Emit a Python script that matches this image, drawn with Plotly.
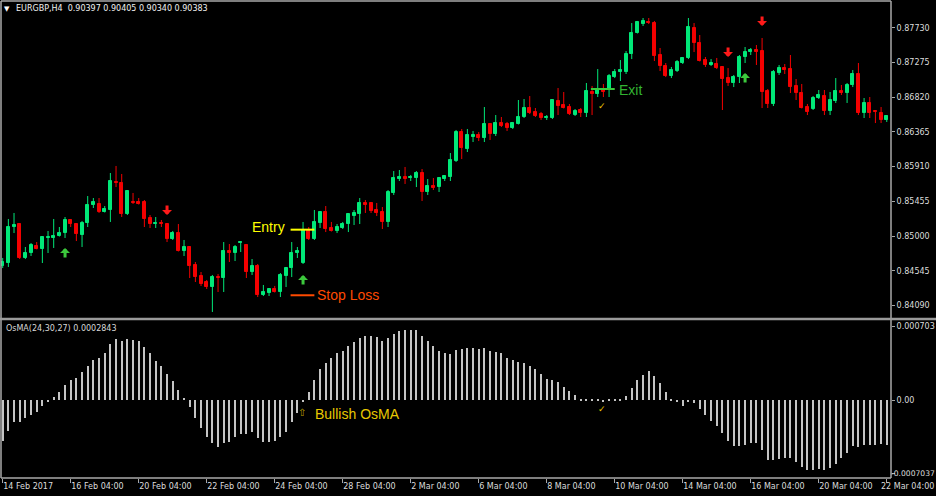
import plotly.graph_objects as go

# ---------------- data ----------------
date_labels = ["14 Feb 2017", "16 Feb 04:00", "20 Feb 04:00", "22 Feb 04:00", "24 Feb 04:00",
               "28 Feb 04:00", "2 Mar 04:00", "6 Mar 04:00", "8 Mar 04:00", "10 Mar 04:00",
               "14 Mar 04:00", "16 Mar 04:00", "20 Mar 04:00", "22 Mar 04:00"]
date_label_bars = [0, 12, 24, 36, 48, 60, 72, 84, 96, 108, 120, 132, 144, 156]

open_ = [0.84607, 0.84646, 0.85118, 0.85157, 0.84712, 0.84777, 0.84869, 0.84830, 0.84980, 0.84974,
         0.85000, 0.85039, 0.85210, 0.85157, 0.85013, 0.85170, 0.85406, 0.85420, 0.85315, 0.85341,
         0.85708, 0.85695, 0.85288, 0.85446, 0.85446, 0.85446, 0.85236, 0.85157, 0.85170, 0.85157,
         0.84961, 0.85039, 0.84803, 0.84856, 0.84620, 0.84476, 0.84397, 0.84331, 0.84462, 0.84449,
         0.84803, 0.84777, 0.84908, 0.84882, 0.84528, 0.84607, 0.84227, 0.84253, 0.84305, 0.84266,
         0.84476, 0.84580, 0.84777, 0.84646, 0.85079, 0.84961, 0.85170, 0.85315, 0.85105, 0.85066,
         0.85105, 0.85157, 0.85262, 0.85288, 0.85433, 0.85433, 0.85341, 0.85315, 0.85184, 0.85564,
         0.85747, 0.85773, 0.85760, 0.85760, 0.85826, 0.85577, 0.85656, 0.85642, 0.85747, 0.85773,
         0.85983, 0.86363, 0.86141, 0.86298, 0.86324, 0.86285, 0.86468, 0.86337, 0.86481, 0.86468,
         0.86416, 0.86468, 0.86560, 0.86678, 0.86626, 0.86599, 0.86547, 0.86547, 0.86770, 0.86717,
         0.86691, 0.86586, 0.86652, 0.86613, 0.86888, 0.86862, 0.86927, 0.86927, 0.87084, 0.87150,
         0.87150, 0.87386, 0.87661, 0.87779, 0.87806, 0.87792, 0.87373, 0.87229, 0.87098, 0.87163,
         0.87268, 0.87334, 0.87727, 0.87530, 0.87307, 0.87242, 0.87255, 0.87216, 0.87071, 0.87006,
         0.87084, 0.87347, 0.87412, 0.87438, 0.87425, 0.86901, 0.86731, 0.87137, 0.87202, 0.87189,
         0.86967, 0.86875, 0.86691, 0.86665, 0.86809, 0.86835, 0.86639, 0.86770, 0.86901, 0.86875,
         0.86980, 0.87124, 0.86613, 0.86744, 0.86639, 0.86613, 0.86521]
high = [0.84712, 0.85223, 0.85302, 0.85170, 0.84856, 0.84908, 0.84921, 0.84993, 0.85066, 0.85223,
        0.85118, 0.85249, 0.85223, 0.85170, 0.85197, 0.85524, 0.85498, 0.85498, 0.85393, 0.85826,
        0.85918, 0.85813, 0.85597, 0.85564, 0.85498, 0.85472, 0.85275, 0.85249, 0.85210, 0.85164,
        0.85066, 0.85157, 0.84948, 0.84869, 0.84659, 0.84528, 0.84423, 0.84489, 0.84502, 0.84921,
        0.84895, 0.84882, 0.84934, 0.84889, 0.84698, 0.84633, 0.84358, 0.84318, 0.84345, 0.84515,
        0.84594, 0.84921, 0.84856, 0.85184, 0.85118, 0.85341, 0.85328, 0.85393, 0.85184, 0.85157,
        0.85184, 0.85295, 0.85341, 0.85498, 0.85472, 0.85446, 0.85433, 0.85380, 0.85603, 0.85852,
        0.85865, 0.85905, 0.85800, 0.85852, 0.85878, 0.85747, 0.85760, 0.85773, 0.85793, 0.86088,
        0.86390, 0.86403, 0.86403, 0.86377, 0.86363, 0.86691, 0.86481, 0.86586, 0.86560, 0.86495,
        0.86495, 0.86783, 0.86796, 0.86835, 0.86678, 0.86626, 0.86586, 0.86796, 0.86940, 0.86888,
        0.86731, 0.86665, 0.86678, 0.87006, 0.86967, 0.87189, 0.86993, 0.87124, 0.87189, 0.87307,
        0.87425, 0.87792, 0.87819, 0.87858, 0.87858, 0.87819, 0.87465, 0.87268, 0.87216, 0.87307,
        0.87347, 0.87858, 0.87792, 0.87635, 0.87347, 0.87320, 0.87334, 0.87222, 0.87202, 0.87111,
        0.87373, 0.87478, 0.87465, 0.87504, 0.87596, 0.86927, 0.87176, 0.87242, 0.87255, 0.87373,
        0.87058, 0.86993, 0.86731, 0.86835, 0.86914, 0.86914, 0.86888, 0.87071, 0.86980, 0.87006,
        0.87176, 0.87268, 0.86809, 0.86822, 0.86652, 0.86691, 0.86586]
low = [0.84580, 0.84594, 0.85039, 0.84698, 0.84698, 0.84738, 0.84825, 0.84646, 0.84777, 0.84843,
       0.84993, 0.84974, 0.85118, 0.84934, 0.84856, 0.85118, 0.85367, 0.85302, 0.85308, 0.85184,
       0.85642, 0.85249, 0.85275, 0.85420, 0.85413, 0.85118, 0.85105, 0.85105, 0.85118, 0.84921,
       0.84948, 0.84797, 0.84738, 0.84449, 0.84397, 0.84345, 0.84305, 0.84004, 0.84266, 0.84266,
       0.84659, 0.84672, 0.84790, 0.84449, 0.84489, 0.84200, 0.84213, 0.84213, 0.84259, 0.84200,
       0.84331, 0.84462, 0.84712, 0.84633, 0.84948, 0.84948, 0.85105, 0.85052, 0.85059, 0.85039,
       0.85092, 0.85052, 0.85144, 0.85157, 0.85302, 0.85302, 0.85262, 0.85092, 0.85118, 0.85538,
       0.85721, 0.85682, 0.85721, 0.85642, 0.85459, 0.85538, 0.85603, 0.85577, 0.85721, 0.85721,
       0.85970, 0.86009, 0.86101, 0.86232, 0.86245, 0.86232, 0.86259, 0.86311, 0.86429, 0.86377,
       0.86403, 0.86462, 0.86547, 0.86599, 0.86560, 0.86521, 0.86521, 0.86534, 0.86586, 0.86672,
       0.86586, 0.86573, 0.86560, 0.86560, 0.86586, 0.86822, 0.86822, 0.86822, 0.87071, 0.87032,
       0.87124, 0.87320, 0.87655, 0.87753, 0.87779, 0.87294, 0.87163, 0.87084, 0.87071, 0.87150,
       0.87255, 0.87320, 0.87412, 0.87288, 0.87216, 0.87229, 0.87189, 0.86652, 0.86967, 0.86953,
       0.87006, 0.87268, 0.87373, 0.87242, 0.86678, 0.86678, 0.86704, 0.87111, 0.87124, 0.86875,
       0.86783, 0.86672, 0.86586, 0.86652, 0.86796, 0.86586, 0.86586, 0.86744, 0.86849, 0.86744,
       0.86953, 0.86586, 0.86547, 0.86547, 0.86481, 0.86481, 0.86495]
close = [0.84659, 0.85118, 0.85144, 0.84712, 0.84777, 0.84882, 0.84830, 0.84987, 0.84987, 0.85000,
         0.85039, 0.85210, 0.85157, 0.85026, 0.85170, 0.85406, 0.85446, 0.85315, 0.85354, 0.85721,
         0.85695, 0.85288, 0.85590, 0.85433, 0.85426, 0.85223, 0.85157, 0.85170, 0.85157, 0.84961,
         0.85039, 0.84803, 0.84856, 0.84607, 0.84462, 0.84371, 0.84331, 0.84462, 0.84449, 0.84803,
         0.84777, 0.84856, 0.84921, 0.84528, 0.84607, 0.84227, 0.84266, 0.84305, 0.84266, 0.84489,
         0.84580, 0.84777, 0.84803, 0.85079, 0.84961, 0.85184, 0.85315, 0.85092, 0.85066, 0.85118,
         0.85157, 0.85288, 0.85302, 0.85433, 0.85406, 0.85328, 0.85302, 0.85184, 0.85577, 0.85760,
         0.85773, 0.85747, 0.85773, 0.85826, 0.85577, 0.85656, 0.85629, 0.85760, 0.85787, 0.85996,
         0.86363, 0.86154, 0.86324, 0.86324, 0.86285, 0.86468, 0.86337, 0.86481, 0.86442, 0.86416,
         0.86481, 0.86560, 0.86678, 0.86613, 0.86573, 0.86547, 0.86560, 0.86783, 0.86704, 0.86678,
         0.86599, 0.86639, 0.86613, 0.86901, 0.86862, 0.86914, 0.86888, 0.87098, 0.87150, 0.87176,
         0.87386, 0.87661, 0.87806, 0.87819, 0.87792, 0.87360, 0.87229, 0.87098, 0.87176, 0.87281,
         0.87334, 0.87740, 0.87530, 0.87294, 0.87242, 0.87268, 0.87202, 0.87058, 0.87006, 0.87084,
         0.87347, 0.87412, 0.87438, 0.87412, 0.86888, 0.86731, 0.87150, 0.87202, 0.87176, 0.86953,
         0.86875, 0.86678, 0.86626, 0.86809, 0.86849, 0.86639, 0.86783, 0.86901, 0.86875, 0.86980,
         0.87124, 0.86613, 0.86744, 0.86613, 0.86626, 0.86521, 0.86573]

osma = [-0.000392, -0.000297, -0.000214, -0.000207, -0.000175, -0.000144, -0.000112, -0.000054, -0.000016, 0.000029,
        0.000073, 0.000144, 0.000191, 0.000214, 0.000265, 0.000329, 0.000386, 0.000405, 0.000450, 0.000539,
        0.000584, 0.000565, 0.000584, 0.000574, 0.000565, 0.000510, 0.000447, 0.000376, 0.000329, 0.000246,
        0.000185, 0.000093, 0.000022, -0.000064, -0.000175, -0.000271, -0.000351, -0.000415, -0.000447, -0.000415,
        -0.000399, -0.000351, -0.000329, -0.000329, -0.000303, -0.000367, -0.000399, -0.000405, -0.000392, -0.000351,
        -0.000303, -0.000207, -0.000128, -0.000016, 0.000073, 0.000191, 0.000297, 0.000351, 0.000399, 0.000447,
        0.000469, 0.000520, 0.000552, 0.000590, 0.000616, 0.000616, 0.000606, 0.000565, 0.000590, 0.000628,
        0.000660, 0.000670, 0.000670, 0.000670, 0.000616, 0.000565, 0.000520, 0.000469, 0.000447, 0.000437,
        0.000479, 0.000488, 0.000494, 0.000494, 0.000485, 0.000494, 0.000472, 0.000463, 0.000447, 0.000405,
        0.000383, 0.000360, 0.000351, 0.000329, 0.000293, 0.000249, 0.000198, 0.000191, 0.000169, 0.000128,
        0.000086, 0.000048, 0.000010, 0.000006, 0.000006, 0.000006, -0.000022, 0.000010, 0.000002, 0.000003,
        0.000041, 0.000112, 0.000191, 0.000239, 0.000281, 0.000233, 0.000160, 0.000080, 0.000010, -0.000016,
        -0.000054, -0.000022, -0.000032, -0.000086, -0.000144, -0.000201, -0.000246, -0.000319, -0.000392, -0.000440,
        -0.000437, -0.000431, -0.000415, -0.000415, -0.000479, -0.000574, -0.000574, -0.000565, -0.000552, -0.000558,
        -0.000597, -0.000638, -0.000670, -0.000670, -0.000660, -0.000670, -0.000648, -0.000616, -0.000558, -0.000510,
        -0.000437, -0.000447, -0.000431, -0.000431, -0.000431, -0.000424, -0.000431]

price_ticks = [0.84090, 0.84545, 0.85000, 0.85455, 0.85910, 0.86365, 0.86820, 0.87275, 0.87730]
osma_ticks = [0.000703, 0.0, -0.0007037]
osma_tick_text = ["0.000703", "0.00", "-0.0007037"]

buy_bars = [11, 53, 131]
buy_prices = [0.84843, 0.84489, 0.87137]
sell_bars = [29, 128, 134]
sell_prices = [0.85275, 0.87347, 0.87753]

entry_price = 0.85083
stop_price = 0.84223
exit_price = 0.86927
entry_span = [50.8, 55.0]
exit_span = [103.8, 108.0]
check_bar = 105.8
check_price = 0.86704
check_osma = -0.000086

title_text = "EURGBP,H4\u00a0\u00a00.90397 0.90405 0.90340 0.90383"
osma_label = "OsMA(24,30,27) 0.0002843"

# ---------------- styles ----------------
UP = "#00E878"
DN = "#F40000"
AXIS_FONT = dict(family="DejaVu Sans", size=8, color="#dcdcdc")
FRAME = "#a8a8a8"

fig = go.Figure()
idx = list(range(len(open_)))
up = [i for i in idx if close[i] >= open_[i]]
dn = [i for i in idx if close[i] < open_[i]]

for ids, col in ((up, UP), (dn, DN)):
    xs, ys = [], []
    for i in ids:
        xs += [i, i, None]
        ys += [low[i], high[i], None]
    fig.add_trace(go.Scatter(x=xs, y=ys, mode="lines", line=dict(color=col, width=1),
                             hoverinfo="skip", xaxis="x", yaxis="y"))
    fig.add_trace(go.Bar(x=ids, y=[abs(close[i] - open_[i]) for i in ids],
                         base=[min(open_[i], close[i]) for i in ids], width=0.53,
                         marker=dict(color=col, line=dict(color=col, width=1)),
                         hoverinfo="skip", xaxis="x", yaxis="y"))

fig.add_trace(go.Bar(x=idx, y=osma, width=0.17, marker=dict(color="#c4c4c4", line=dict(width=0)),
                     hoverinfo="skip", xaxis="x2", yaxis="y2"))

# trade level lines
for span, price, col in ((entry_span, entry_price, "#FFFF00"), (entry_span, stop_price, "#FF4A00"),
                         (exit_span, exit_price, "#3CC83C")):
    fig.add_trace(go.Scatter(x=span, y=[price, price], mode="lines", line=dict(color=col, width=2),
                             hoverinfo="skip", xaxis="x", yaxis="y"))

# the last date label and the lowest OsMA label are drawn as annotations so they stay inside the page
axis_ticktext = date_labels[:-1] + [""]
osma_axis_text = osma_tick_text[:-1] + [""]

xr = [-0.3, 156.75]
fig.update_layout(
    template="none", width=936, height=496,
    margin=dict(l=1, r=45, t=1, b=18),
    paper_bgcolor="black", plot_bgcolor="black",
    showlegend=False, barmode="overlay", bargap=0,
    xaxis=dict(domain=[0, 1], range=xr, anchor="y", showticklabels=False, showgrid=False,
               zeroline=False, ticks="", showline=False, automargin=False),
    xaxis2=dict(domain=[0, 1], range=xr, anchor="y2", showgrid=False, zeroline=False,
                tickmode="array", tickvals=date_label_bars, ticktext=axis_ticktext,
                ticks="outside", ticklen=4, tickcolor=FRAME, tickwidth=1,
                ticklabelposition="outside right", ticklabeloverflow="allow",
                tickfont=AXIS_FONT, showline=False, automargin=False),
    yaxis=dict(domain=[0.33543, 1], range=[0.83925, 0.88081], side="right", anchor="x",
               tickmode="array", tickvals=price_ticks, ticktext=["%.5f" % v for v in price_ticks],
               ticks="outside", ticklen=3, tickcolor=FRAME, tickfont=AXIS_FONT,
               showgrid=False, zeroline=False, showline=False, automargin=False),
    yaxis2=dict(domain=[0, 0.32914], range=[-0.000746, 0.000756], side="right", anchor="x2",
                tickmode="array", tickvals=osma_ticks, ticktext=osma_axis_text,
                ticks="outside", ticklen=3, tickcolor=FRAME, tickfont=AXIS_FONT,
                ticklabeloverflow="allow",
                showgrid=False, zeroline=False, showline=False, automargin=False),
)

# frame lines
sep_y = (478 - 319) / 477
shapes = [
    dict(type="line", xref="paper", yref="paper", x0=0, x1=0, y0=0, y1=1, line=dict(color=FRAME, width=1.5)),
    dict(type="line", xref="paper", yref="paper", x0=1, x1=1, y0=0, y1=1, line=dict(color=FRAME, width=1.5)),
    dict(type="line", xref="paper", yref="paper", x0=0, x1=1, y0=1, y1=1, line=dict(color=FRAME, width=1.5)),
    dict(type="line", xref="paper", yref="paper", x0=0, x1=1, y0=0, y1=0, line=dict(color=FRAME, width=1.5)),
    dict(type="line", xref="paper", yref="paper", x0=-0.01, x1=1.06, y0=sep_y, y1=sep_y,
         line=dict(color="#9a9a9a", width=2.5)),
]
fig.update_layout(shapes=shapes)

ann = []
ann.append(dict(xref="paper", yref="paper", x=0.0073, y=0.9839, text="\u25bc", showarrow=False,
                font=dict(family="DejaVu Sans", size=7, color="#ffffff"), xanchor="center", yanchor="middle"))
ann.append(dict(xref="paper", yref="paper", x=0.0145, y=0.9843, text=title_text, showarrow=False,
                font=dict(family="DejaVu Sans", size=8, color="#f0f0f0"), xanchor="left", yanchor="middle"))
ann.append(dict(xref="paper", yref="paper", x=0.003, y=0.3134, text=osma_label, showarrow=False,
                font=dict(family="DejaVu Sans", size=8, color="#d8d8d8"), xanchor="left", yanchor="middle"))
ann.append(dict(xref="paper", yref="paper", x=(935 - 1) / 890, y=-(486 - 478) / 477, text=date_labels[-1],
                showarrow=False, font=AXIS_FONT, xanchor="right", yanchor="middle", borderpad=0))
ann.append(dict(xref="paper", yref="y2", x=(935.5 - 1) / 890, y=osma_ticks[-1], text=osma_tick_text[-1],
                showarrow=False, font=dict(family="DejaVu Sans", size=7.6, color="#dcdcdc"),
                xanchor="right", yanchor="middle", borderpad=0))

TXT = "Liberation Sans"
ann.append(dict(xref="x", yref="y", x=entry_span[0], y=entry_price, text="Entry", showarrow=False,
                xanchor="right", yanchor="middle", xshift=-4, yshift=3,
                font=dict(family=TXT, size=14, color="#FFFF00")))
ann.append(dict(xref="x", yref="y", x=entry_span[1], y=stop_price, text="Stop Loss", showarrow=False,
                xanchor="left", yanchor="middle", xshift=1, yshift=0,
                font=dict(family=TXT, size=14, color="#FF4A00")))
ann.append(dict(xref="x", yref="y", x=exit_span[1], y=exit_price, text="Exit", showarrow=False,
                xanchor="left", yanchor="middle", xshift=2, yshift=-1,
                font=dict(family=TXT, size=14, color="#32B432")))
ann.append(dict(xref="x2", yref="y2", x=54.7, y=-0.000134, text="Bullish OsMA", showarrow=False,
                xanchor="left", yanchor="middle", font=dict(family=TXT, size=14, color="#E8C800")))
ann.append(dict(xref="x2", yref="y2", x=52.8, y=-0.000115, text="\u21e7", showarrow=False,
                xanchor="center", yanchor="middle", font=dict(family="DejaVu Sans", size=10, color="#B8A000")))
ann.append(dict(xref="x", yref="y", x=check_bar, y=check_price, text="\u2713", showarrow=False,
                xanchor="center", yanchor="middle", font=dict(family="DejaVu Sans", size=9, color="#F0C800")))
ann.append(dict(xref="x2", yref="y2", x=check_bar, y=check_osma, text="\u2713", showarrow=False,
                xanchor="center", yanchor="middle", font=dict(family="DejaVu Sans", size=9, color="#F0C800")))

for i, p in zip(buy_bars, buy_prices):
    ann.append(dict(xref="x", yref="y", x=i, y=p, text="", showarrow=True, ax=0, ay=11,
                    arrowhead=1, arrowsize=0.55, arrowwidth=3, arrowcolor="#3CC83C"))
for i, p in zip(sell_bars, sell_prices):
    ann.append(dict(xref="x", yref="y", x=i, y=p, text="", showarrow=True, ax=0, ay=-11,
                    arrowhead=1, arrowsize=0.55, arrowwidth=3, arrowcolor="#FF1A1A"))

fig.update_layout(annotations=ann)
fig.write_html("out.html", config={"displayModeBar": False},
               post_script="document.body.style.margin='0';document.body.style.overflow='hidden';")
